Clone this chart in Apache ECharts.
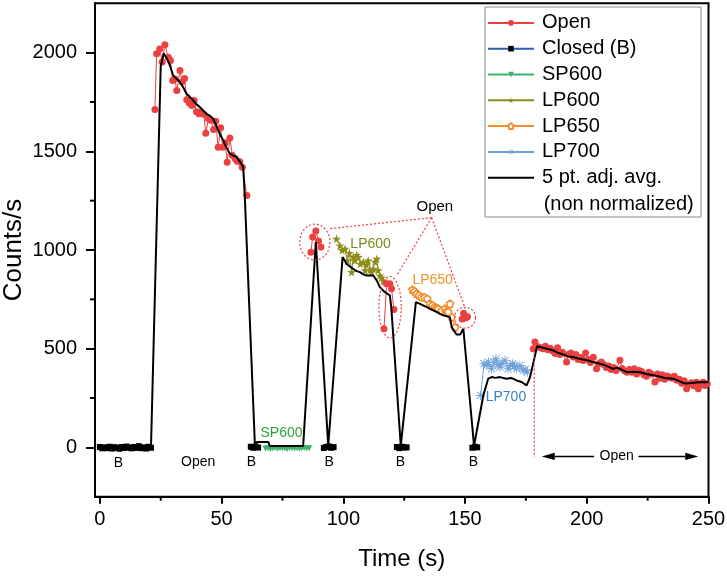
<!DOCTYPE html>
<html><head><meta charset="utf-8">
<script src="https://cdn.jsdelivr.net/npm/echarts@6/dist/echarts.min.js"></script>
<style>html,body{margin:0;padding:0;background:#fff}#c{width:727px;height:577px}</style>
</head><body><div id="c"></div>
<script>
const FONT = '"Liberation Sans", Arial, Helvetica, sans-serif';

// ---------- data ([time s, counts/s]) ----------
const closedSeg1 = [[0,2],[1,-5],[2,0],[3,-4],[4,3],[5,-6],[6,1],[7,-2],[8,-7],[9,2],[10,-3],[11,4],[12,-1],[13,-5],[14,2],[15,-3],[16,6],[17,-4],[18,0],[19,-6],[20,3],[21,-2]];
const closedSeg2 = [[62,3],[63,-2],[64,4],[65,-1]];
const closedSeg3 = [[92,-3],[93,2],[94,5],[95,-2],[96,1]];
const closedSeg4 = [[122,2],[123,-4],[124,3],[125,-1],[126,0]];
const closedSeg5 = [[153,-2],[154,3],[155,0]];

const openSeg1 = [[22.6,1712],[23.3,1994],[24.6,2018],[25.6,1952],[26.7,2040],[28.1,1977],[29.0,1960],[29.9,1859],[30.8,1866],[31.6,1808],[32.9,1909],[33.8,1853],[34.8,1869],[35.7,1761],[36.7,1745],[37.8,1732],[38.7,1757],[39.7,1700],[40.7,1690],[41.6,1700],[42.7,1688],[43.5,1592],[44.6,1665],[45.6,1657],[46.7,1610],[47.6,1652],[48.6,1521],[49.6,1619],[50.5,1521],[51.5,1544],[52.3,1445],[53.4,1568],[54.4,1480],[55.5,1464],[56.4,1450],[57.5,1447],[58.5,1419],[60.4,1276]];
const openClu1 = [[86.7,989],[87.4,1066],[88.7,1096],[89.8,1045],[90.8,1015]];
const openClu2 = [[116.7,601],[117.8,829],[119.1,829],[119.8,804],[120.8,698]];
const openClu3 = [[148.8,650],[149.4,680],[150.2,655],[151.0,662]];
const openSeg2 = [[178,500],[178.7,534],[180,510],[181,505],[182,500],[183,512],[184,495],[185,502],[186,488],[187,475],[188,505],[189,470],[190,482],[191.7,432],[192.5,470],[193.5,478],[194.5,458],[195.5,470],[196.5,445],[197.5,455],[198.5,440],[199.5,478],[200.5,445],[201.5,430],[202.7,457],[204,398],[205,425],[206,432],[207,420],[208,405],[209,412],[210,395],[211,405],[212,390],[213.6,441],[214.5,400],[215.5,388],[216.5,380],[217.5,395],[218.5,380],[219.5,398],[220.5,372],[221.5,390],[222.5,385],[223.5,368],[224.5,360],[225.5,380],[226.5,372],[228,331],[229,372],[230,350],[231,368],[232,345],[233,362],[234,355],[235,350],[236,360],[237,340],[238,345],[239,325],[240,338],[241,297],[242,320],[243,328],[244,312],[245,330],[245.8,297],[246.8,318],[247.8,330],[248.5,314],[249.5,322]];

const sp600 = [[68,-6],[69,-4],[70,-8],[71,-5],[72,-3],[73,-7],[74,-5],[75,-4],[76,-6],[77,-8],[78,-3],[79,-5],[80,-6],[81,-4],[82,-7],[83,-5],[84,-3],[85,-6],[86,-5]];
const lp600 = [[97.2,1057],[98.6,1023],[99.5,1000],[100.7,1006],[101.6,947],[102.5,985],[103.4,888],[104.1,964],[104.8,947],[105.5,975],[106.1,964],[107,930],[108.2,939],[108.9,897],[109.5,925],[110.2,947],[111,900],[111.6,888],[112.3,905],[113,940],[113.7,955],[114.3,897],[115,871],[115.7,860],[116.4,845]];
const lp650 = [[128.4,799],[129.3,790],[130.1,779],[131.1,770],[132.2,762],[133.3,760],[134.5,753],[135.6,728],[136.6,720],[137.6,711],[138.3,706],[139,703],[140.4,694],[141.7,703],[142.4,690],[143.1,686],[143.8,728],[144.5,660],[145.9,609]];
const lp700 = [[156.4,263],[157.8,424],[158.7,415],[159.6,432],[160.9,398],[161.8,430],[162.7,449],[163.5,420],[164.3,407],[165.3,425],[166.4,441],[167.7,398],[168.6,415],[169.5,424],[170.3,410],[171.2,398],[172.5,415],[173.9,390],[174.7,395],[175.6,381]];

const avg5 = [[0,0],[4,-2],[8,1],[12,-1],[16,2],[20,0],[21,0],[25,1930],[26.2,1997],[27.5,1970],[28.8,1935],[30.1,1884],[31.5,1868],[32.9,1851],[34.2,1825],[35.6,1792],[37,1775],[38.3,1758],[39.7,1738],[41.1,1724],[42.5,1705],[43.8,1690],[45.2,1680],[46.5,1665],[47.5,1640],[48.6,1606],[49.6,1580],[50.7,1555],[52,1520],[53.4,1488],[54.8,1478],[56.2,1471],[57.5,1448],[58.9,1420],[59.6,1250],[63.7,8],[64.5,27],[69.2,27],[69.8,7],[83.5,7],[88.7,1040],[93.8,8],[99.7,964],[100.5,955],[101.3,930],[102.5,918],[104,905],[105.5,893],[106.8,888],[108,878],[109.6,871],[112.3,871],[113.7,846],[115,812],[117,787],[119.1,770],[119.7,711],[123.6,8],[129.8,736],[131.3,728],[132.8,719],[134.2,712],[135.6,702],[137,694],[138.3,686],[139.7,676],[141,669],[143.8,660],[144.5,609],[146.5,572],[148,572],[149.3,601],[153.7,8],[157.5,263],[159.5,348],[161,356],[162.5,352],[164.3,356],[165,365],[167,348],[169,352],[171.2,339],[173.2,331],[175.3,314],[176.7,356],[179.6,512],[182,505],[184,498],[186.2,491],[188,480],[190,472],[192,462],[194.5,457],[196.5,450],[198.5,445],[200.5,440],[202.7,432],[205,425],[207,418],[209,408],[210.9,398],[212.5,404],[214,395],[216.4,381],[219,383],[222,381],[224.5,372],[227.3,365],[229.5,360],[232,352],[235.5,348],[237.5,338],[240.3,323],[243,326],[246,330],[249.3,331],[250,329]];

const xMajorTicks = [0,50,100,150,200,250];
const xMinorTicks = [25,75,125,175,225];
const yMajorTicks = [0,500,1000,1500,2000];
const yMinorTicks = [250,750,1250,1750];

// ---------- annotations (data coordinates) ----------
const annoText = [
  {t:7.6, v:-78, text:'B', color:'#000', size:14},
  {t:40.4, v:-76, text:'Open', color:'#000', size:14},
  {t:62.3, v:-76, text:'B', color:'#000', size:14},
  {t:94.2, v:-76, text:'B', color:'#000', size:14},
  {t:123.5, v:-76, text:'B', color:'#000', size:14},
  {t:153.4, v:-76, text:'B', color:'#000', size:14},
  {t:74.6, v:74, text:'SP600', color:'#2ca33c', size:14},
  {t:111.2, v:1032, text:'LP600', color:'#7d8a1c', size:14},
  {t:136.7, v:846, text:'LP650', color:'#f0902c', size:14},
  {t:166.8, v:252, text:'LP700', color:'#3a80c4', size:14},
  {t:137.6, v:1221, text:'Open', color:'#000', size:15},
  {t:212.3, v:-46, text:'Open', color:'#000', size:14}
];
const annoEllipses = [[88.3,1040,6.2,91],[119.2,710,4.6,156],[150,657,4.3,53]];
const annoDotted = [[136.3,1164,94.5,1108],[136.3,1164,121.9,871],[136.3,1164,150.1,703],[178.4,500,178.4,-50]];
const annoArrows = [[203,181.5,-46],[221.2,245.8,-46]];

// ---------- styles ----------
const X_MIN = -2, X_MAX = 250, Y_MIN = -250, Y_MAX = 2250;
const RED = '#ea4040', BLUE_LINE = '#2a62b0', GREEN = '#3cb371', OLIVE = '#8c8c1a', ORANGE = '#f28c2c', LBLUE = '#6fa0d8';
const STAR = 'path://M50,0 L61,35 L98,35 L68,57 L79,91 L50,70 L21,91 L32,57 L2,35 L39,35 Z';
const PENT = 'path://M50,0 L98,35 L79,91 L21,91 L2,35 Z';
const ASTER = 'path://M9,0 L11,0 L11,20 L9,20 Z M0,9 L20,9 L20,11 L0,11 Z M1.4,2.8 L2.8,1.4 L18.6,17.2 L17.2,18.6 Z M17.2,1.4 L18.6,2.8 L2.8,18.6 L1.4,17.2 Z';
const LINE_ICON = 'path://M0,0 L100,0 L100,4.4 L0,4.4 Z';

function joinSegs(segs){ const out=[]; segs.forEach((s,i)=>{ if(i>0) out.push(['-','-']); s.forEach(p=>out.push(p)); }); return out; }

const chart = echarts.init(document.getElementById('c'));
const axisFont = {fontFamily: FONT, fontSize: 20, color: '#000', formatter: v => String(v)};

// minor ticks drawn via the axis scales: [x, y, direction(0 = down from x axis, 1 = left from y axis)]
const minorTickData = xMinorTicks.map(t => [t, Y_MIN, 0]).concat(yMinorTicks.map(v => [X_MIN, v, 1]));

chart.setOption({
  animation: false,
  backgroundColor: '#fff',
  grid: {left: 95, right: 18.5, top: 3.3, bottom: 80.3, containLabel:false, outerBoundsMode:'none', show: true, borderColor: '#000', borderWidth: 2, backgroundColor: 'transparent'},
  xAxis: {type:'value', min:X_MIN, max:X_MAX, position:'bottom',
     name:'Time (s)', nameLocation:'middle', nameGap:51, nameMoveOverlap:false, nameTextStyle:{fontFamily:FONT, fontSize:24, color:'#000'},
     axisLine:{show:true, onZero:false, lineStyle:{color:'#000', width:2}},
     axisTick:{show:true, inside:false, length:7, customValues:xMajorTicks, lineStyle:{color:'#000', width:2}},
     axisLabel:{show:true, margin:13, customValues:xMajorTicks, ...axisFont},
     splitLine:{show:false}},
  yAxis: {type:'value', min:Y_MIN, max:Y_MAX, position:'left',
     name:'Counts/s', nameLocation:'middle', nameGap:68, nameMoveOverlap:false, nameTextStyle:{fontFamily:FONT, fontSize:26, color:'#000'},
     axisLine:{show:true, onZero:false, lineStyle:{color:'#000', width:2}},
     axisTick:{show:true, inside:false, length:9, customValues:yMajorTicks, lineStyle:{color:'#000', width:2}},
     axisLabel:{show:true, margin:18, customValues:yMajorTicks, ...axisFont},
     splitLine:{show:false}},
  legend: {
    orient:'vertical', left:487, top:10, padding:0, itemGap:0, itemWidth:46, itemHeight:7,
    selectedMode:false,
    textStyle:{fontFamily:FONT, fontSize:20, color:'#000', lineHeight:25.8, padding:[0,0,0,3]},
    data:['Open','Closed (B)','SP600','LP600','LP650','LP700',{name:'5 pt. adj. avg.', icon:LINE_ICON, itemStyle:{color:'#000'}}]
  },
  graphic: [
    {type:'rect', shape:{x:485, y:7, width:216, height:210}, style:{fill:'#fff', stroke:'#8a8a8a', lineWidth:1}, z:-1, silent:true},
    {type:'text', x:543.7, y:204, style:{text:'(non normalized)', fill:'#000', fontSize:20, fontFamily:FONT, verticalAlign:'middle'}, z:100}
  ],
  series: [
    {name:'Closed (B)', type:'line', data:joinSegs([closedSeg1,closedSeg2,closedSeg3,closedSeg4,closedSeg5]),
     symbol:'rect', symbolSize:6, showAllSymbol:true, lineStyle:{color:BLUE_LINE, width:1}, itemStyle:{color:'#000'}, z:3},
    {name:'SP600', type:'line', data:sp600, symbol:'triangle', symbolRotate:180, symbolSize:6, showAllSymbol:true,
     lineStyle:{color:GREEN, width:1}, itemStyle:{color:GREEN}, z:3},
    {name:'LP600', type:'line', data:lp600, symbol:STAR, symbolSize:9, showAllSymbol:true,
     lineStyle:{color:OLIVE, width:1}, itemStyle:{color:OLIVE}, z:3},
    {name:'LP650', type:'line', data:lp650, symbol:PENT, symbolSize:7, showAllSymbol:true,
     lineStyle:{color:ORANGE, width:1}, itemStyle:{color:'#fff', borderColor:ORANGE, borderWidth:1.6}, z:3},
    {name:'LP700', type:'line', data:lp700, symbol:ASTER, symbolSize:9, showAllSymbol:true,
     lineStyle:{color:LBLUE, width:1}, itemStyle:{color:LBLUE}, z:3},
    {name:'Open', type:'line', data:joinSegs([openSeg1,openClu1,openClu2,openClu3,openSeg2]), symbol:'circle', symbolSize:7, showAllSymbol:true,
     lineStyle:{color:RED, width:1}, itemStyle:{color:RED}, z:3},
    {name:'5 pt. adj. avg.', type:'line', data:avg5, symbol:'none', lineStyle:{color:'#000', width:2}, itemStyle:{color:'#000'}, z:4},
    {type:'custom', coordinateSystem:'cartesian2d', silent:true, z:5, clip:false, data:minorTickData,
     renderItem:(params, api)=>{
       const c = api.coord([api.value(0), api.value(1)]);
       const horiz = api.value(2) === 1;
       return {type:'line', shape: horiz ? {x1:c[0], y1:c[1], x2:c[0]-5, y2:c[1]} : {x1:c[0], y1:c[1], x2:c[0], y2:c[1]+4},
               style:{stroke:'#000', lineWidth:2}};
     }},
    {type:'custom', coordinateSystem:'cartesian2d', silent:true, z:5, clip:false, data:annoEllipses,
     renderItem:(params, api)=>{
       const c = api.coord([api.value(0), api.value(1)]);
       const s = api.size([api.value(2), api.value(3)]);
       const pts = [];
       for (let k=0;k<90;k++){ const a=k/90*2*Math.PI; pts.push([c[0]+s[0]*Math.cos(a), c[1]+s[1]*Math.sin(a)]); }
       return {type:'polygon', shape:{points:pts}, style:{fill:'none', stroke:RED, lineWidth:1.2, lineDash:[2,2]}};
     }},
    {type:'custom', coordinateSystem:'cartesian2d', silent:true, z:5, clip:false, data:annoDotted,
     renderItem:(params, api)=>{
       const a = api.coord([api.value(0), api.value(1)]);
       const b = api.coord([api.value(2), api.value(3)]);
       return {type:'line', shape:{x1:a[0], y1:a[1], x2:b[0], y2:b[1]}, style:{stroke:RED, lineWidth:1.2, lineDash:[2,2]}};
     }},
    {type:'custom', coordinateSystem:'cartesian2d', silent:true, z:5, clip:false, data:annoArrows,
     renderItem:(params, api)=>{
       const p1 = api.coord([api.value(0), api.value(2)]);
       const p2 = api.coord([api.value(1), api.value(2)]);
       const dir = Math.sign(p2[0]-p1[0]);
       const L = 13, HH = 3.6, base = p2[0]-dir*L;
       return {type:'group', children:[
         {type:'line', shape:{x1:p1[0], y1:p1[1], x2:base, y2:p2[1]}, style:{stroke:'#000', lineWidth:1.4}},
         {type:'polygon', shape:{points:[[p2[0],p2[1]],[base,p2[1]-HH],[base,p2[1]+HH]]}, style:{fill:'#000'}}
       ]};
     }},
    {type:'custom', coordinateSystem:'cartesian2d', silent:true, z:6, clip:false,
     data:annoText.map((a,i)=>[a.t,a.v,i]),
     renderItem:(params, api)=>{
       const a = annoText[api.value(2)];
       const c = api.coord([api.value(0), api.value(1)]);
       return {type:'text', x:c[0], y:c[1], style:{text:a.text, fill:a.color, fontSize:a.size, fontFamily:FONT, align:'center', verticalAlign:'middle'}};
     }}
  ]
});
</script></body></html>
